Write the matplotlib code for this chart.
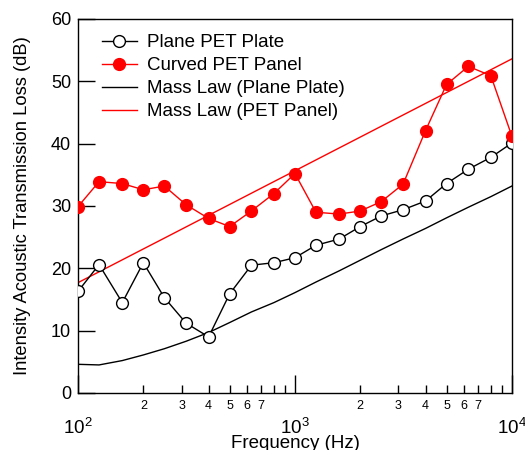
import math
import matplotlib
matplotlib.use("Agg")
import matplotlib.pyplot as plt
from matplotlib.ticker import FixedLocator, FuncFormatter

plt.rcParams['font.family'] = ['Liberation Sans', 'DejaVu Sans']
plt.rcParams['mathtext.fontset'] = 'custom'
plt.rcParams['mathtext.rm'] = 'Liberation Sans'
plt.rcParams['mathtext.it'] = 'Liberation Sans:italic'
plt.rcParams['mathtext.bf'] = 'Liberation Sans:bold'

freq = [100, 125, 160, 200, 250, 315, 400, 500, 630, 800, 1000, 1250, 1600,
        2000, 2500, 3150, 4000, 5000, 6300, 8000, 10000]
plane = [16.3, 20.6, 14.5, 20.9, 15.3, 11.2, 9.0, 15.9, 20.5, 20.9, 21.7, 23.7,
         24.7, 26.7, 28.4, 29.4, 30.8, 33.6, 35.9, 37.8, 40.1]
curved = [29.9, 33.9, 33.6, 32.6, 33.2, 30.2, 28.0, 26.7, 29.2, 32.0, 35.2, 29.0,
          28.7, 29.2, 30.7, 33.5, 42.1, 49.5, 52.4, 50.9, 41.2]
mass_plane = [4.6, 4.5, 5.2, 6.1, 7.1, 8.3, 9.7, 11.3, 13.0, 14.5, 16.1, 17.8,
              19.6, 21.3, 23.0, 24.7, 26.4, 28.1, 29.8, 31.5, 33.2]
mass_pet_freq = [100, 10000]
mass_pet = [17.7, 53.6]

fig = plt.figure(figsize=(5.25, 4.5), dpi=100)
ax = fig.add_axes([0.1486, 0.1267, 0.8264, 0.8311])

ax.plot(freq, plane, '-o', color='black', mfc='white', mec='black', ms=8.5,
        lw=1, mew=1, label='Plane PET Plate', zorder=4)
ax.plot(freq, curved, '-o', color='red', mfc='red', mec='red', ms=8.5,
        lw=1, label='Curved PET Panel', zorder=4)
ax.plot(freq, mass_plane, '-', color='black', lw=1, label='Mass Law (Plane Plate)')
ax.plot(mass_pet_freq, mass_pet, '-', color='red', lw=1, label='Mass Law (PET Panel)')

ax.set_xscale('log')
ax.set_xlim(100, 10000)
ax.set_ylim(0, 60)
ax.set_yticks([0, 10, 20, 30, 40, 50, 60])

ax.xaxis.set_major_locator(FixedLocator([100, 1000, 10000]))
ax.xaxis.set_major_formatter(FuncFormatter(lambda v, p: r'$\mathregular{10^{%d}}$' % round(math.log10(v))))
minors = [m * d for d in (100, 1000) for m in range(2, 10)]
ax.xaxis.set_minor_locator(FixedLocator(minors))
def minfmt(v, p):
    d = int(round(v / (100 if v < 1000 else 1000)))
    return str(d) if d <= 7 else ''
ax.xaxis.set_minor_formatter(FuncFormatter(minfmt))

ax.tick_params(axis='x', which='major', direction='in', length=13, width=1,
               labelsize=13.5, pad=18, top=False)
ax.tick_params(axis='x', which='minor', direction='in', length=6, width=1,
               labelsize=9, pad=5, top=False)
ax.tick_params(axis='y', which='major', direction='in', length=12, width=1,
               labelsize=13, pad=5, right=False)
for s in ax.spines.values():
    s.set_linewidth(1)

ax.set_xlabel('Frequency (Hz)', fontsize=13.5, labelpad=-2)
ax.set_ylabel('Intensity Acoustic Transmission Loss (dB)', fontsize=13.2, labelpad=14)

leg = ax.legend(loc='upper left', frameon=False, fontsize=13.5, handlelength=1.85,
                handletextpad=0.55, labelspacing=0.31, borderaxespad=0.0,
                borderpad=0.0, bbox_to_anchor=(0.055, 0.959))

fig.savefig('out.png', dpi=100)
